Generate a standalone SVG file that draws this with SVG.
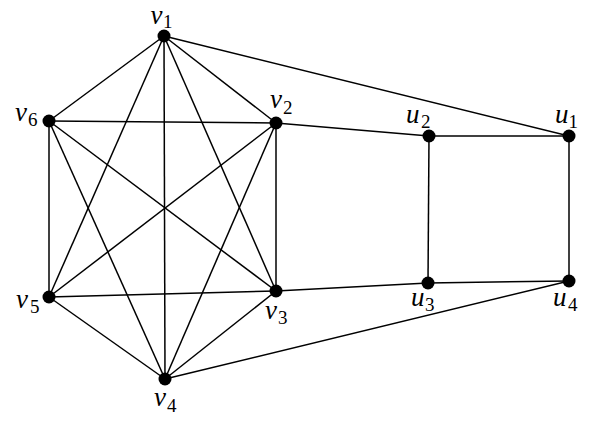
<svg xmlns="http://www.w3.org/2000/svg" width="613" height="430" viewBox="0 0 613 430">
<style>
.e{stroke:#000;stroke-width:1.5;fill:none}
.n{fill:#000}
.l{font-family:"Liberation Serif","DejaVu Serif",serif;font-style:italic;font-size:27px;fill:#000}
.s{font-family:"Liberation Serif","DejaVu Serif",serif;font-size:19px;fill:#000}
</style>
<rect width="613" height="430" fill="#fff"/>
<g id="edges">
<line class="e" x1="164" y1="36" x2="276" y2="123"/>
<line class="e" x1="164" y1="36" x2="276" y2="291"/>
<line class="e" x1="164" y1="36" x2="165" y2="379"/>
<line class="e" x1="164" y1="36" x2="49" y2="297"/>
<line class="e" x1="164" y1="36" x2="49" y2="121"/>
<line class="e" x1="276" y1="123" x2="276" y2="291"/>
<line class="e" x1="276" y1="123" x2="165" y2="379"/>
<line class="e" x1="276" y1="123" x2="49" y2="297"/>
<line class="e" x1="276" y1="123" x2="49" y2="121"/>
<line class="e" x1="276" y1="291" x2="165" y2="379"/>
<line class="e" x1="276" y1="291" x2="49" y2="297"/>
<line class="e" x1="276" y1="291" x2="49" y2="121"/>
<line class="e" x1="165" y1="379" x2="49" y2="297"/>
<line class="e" x1="165" y1="379" x2="49" y2="121"/>
<line class="e" x1="49" y1="297" x2="49" y2="121"/>
<line class="e" x1="164" y1="36" x2="569" y2="136"/>
<line class="e" x1="276" y1="123" x2="429" y2="136"/>
<line class="e" x1="276" y1="291" x2="428" y2="283"/>
<line class="e" x1="165" y1="379" x2="569" y2="281"/>
<line class="e" x1="429" y1="136" x2="569" y2="136"/>
<line class="e" x1="429" y1="136" x2="428" y2="283"/>
<line class="e" x1="428" y1="283" x2="569" y2="281"/>
<line class="e" x1="569" y1="281" x2="569" y2="136"/>
</g>
<g id="v1"><circle class="n" cx="164" cy="36" r="6.5"/><text class="l" x="150.5" y="24">v</text><text class="s" x="163" y="28">1</text></g>
<g id="v2"><circle class="n" cx="276" cy="123" r="6.5"/><text class="l" x="270" y="108">v</text><text class="s" x="283" y="114">2</text></g>
<g id="v3"><circle class="n" cx="276" cy="291" r="6.5"/><text class="l" x="265" y="319">v</text><text class="s" x="278" y="324">3</text></g>
<g id="v4"><circle class="n" cx="165" cy="379" r="6.5"/><text class="l" x="154" y="406">v</text><text class="s" x="167" y="412">4</text></g>
<g id="v5"><circle class="n" cx="49" cy="297" r="6.5"/><text class="l" x="16" y="308">v</text><text class="s" x="30" y="313">5</text></g>
<g id="v6"><circle class="n" cx="49" cy="121" r="6.5"/><text class="l" x="15" y="121">v</text><text class="s" x="28" y="126">6</text></g>
<g id="u1"><circle class="n" cx="569" cy="136" r="6.5"/><text class="l" x="555" y="123">u</text><text class="s" x="568.5" y="128">1</text></g>
<g id="u2"><circle class="n" cx="429" cy="136" r="6.5"/><text class="l" x="406" y="123">u</text><text class="s" x="421" y="128">2</text></g>
<g id="u3"><circle class="n" cx="428" cy="283" r="6.5"/><text class="l" x="411" y="306">u</text><text class="s" x="425" y="311">3</text></g>
<g id="u4"><circle class="n" cx="569" cy="281" r="6.5"/><text class="l" x="553" y="306">u</text><text class="s" x="568" y="311">4</text></g>
</svg>
